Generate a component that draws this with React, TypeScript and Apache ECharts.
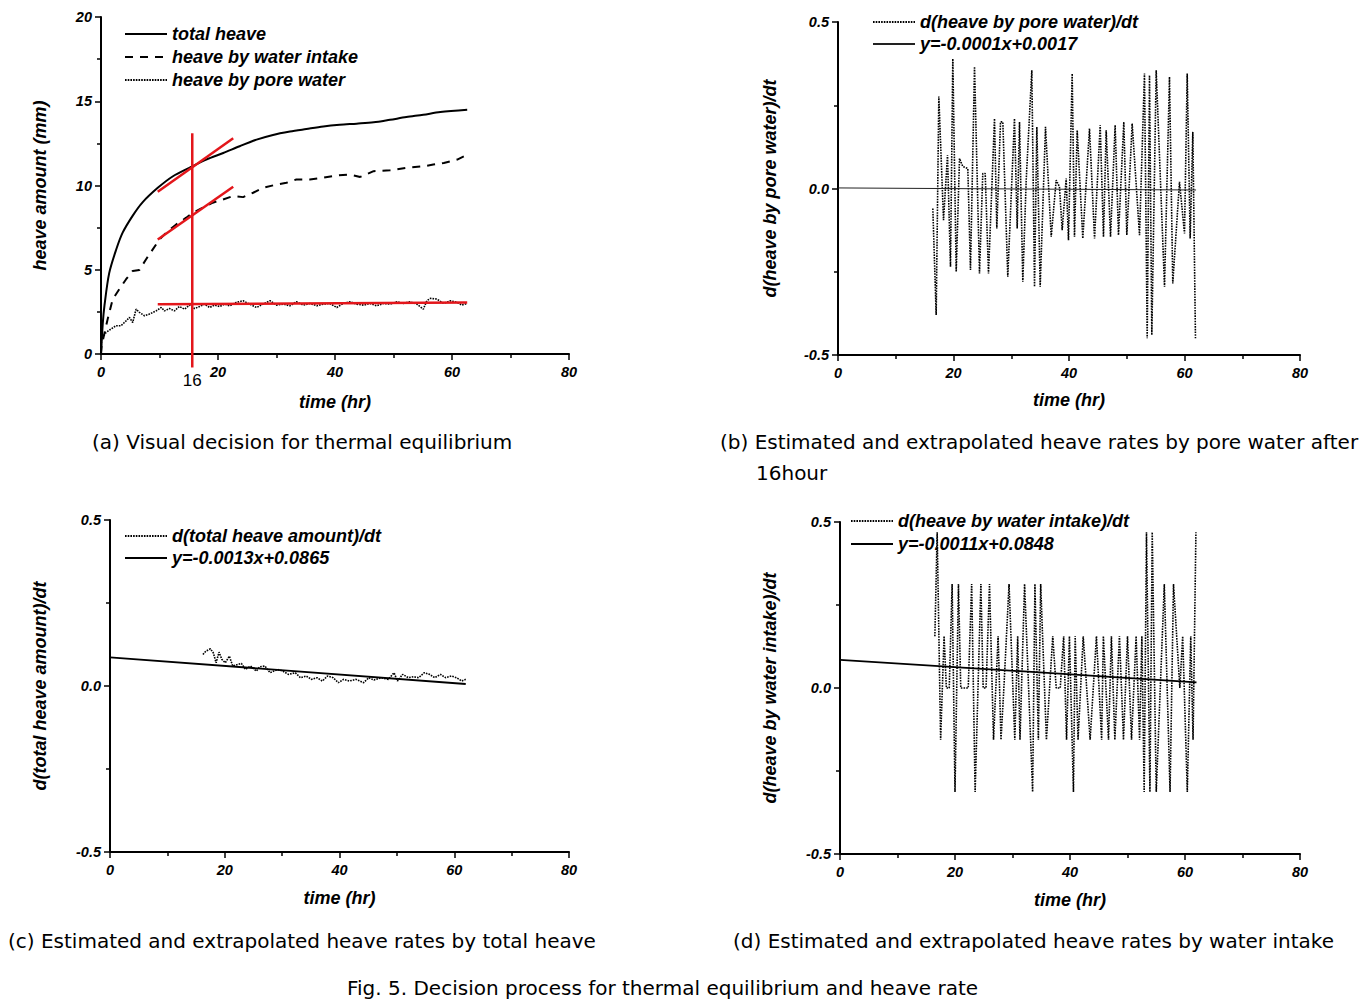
import React, { useEffect, useRef } from "react";
import * as echarts from "echarts";

const FONT = "'Liberation Sans', Arial, Helvetica, sans-serif";
const CAP_FONT = "'DejaVu Sans', 'Noto Sans', sans-serif";

// ---------- (a) heave amount ----------
const totalT = [0, 0.3, 0.6, 1.4, 2.6, 3.7, 5.4, 7.1, 9.7, 12.3, 15.1, 18.0, 20.9, 23.7, 26.6, 29.4, 32.3, 35.1, 38.0, 40.8, 43.7, 46.6, 49.4, 52.2, 55.1, 58.0, 62.6];
const totalHeave = [0, 1.8, 2.9, 4.8, 6.2, 7.2, 8.2, 9.0, 9.86, 10.55, 11.05, 11.54, 11.93, 12.33, 12.72, 13.0, 13.2, 13.35, 13.5, 13.6, 13.67, 13.75, 13.9, 14.06, 14.2, 14.36, 14.5];

const intakeT = [0, 0.1, 1.14, 2.0, 3.14, 4.29, 5.42, 6.57, 7.71, 8.85, 10.0, 11.14, 12.86, 14.57, 15.7, 17.4, 19.1, 20.85, 22.56, 24.3, 26.0, 27.7, 30.0, 31.7, 33.4, 35.7, 38.0, 40.3, 42.6, 44.3, 46.6, 49.4, 52.3, 55.1, 56.8, 58.6, 60.9, 62.6];
const intakeHeave = [0, 0.49, 2.07, 3.25, 3.85, 4.44, 4.93, 4.99, 5.62, 6.21, 6.8, 7.2, 7.69, 8.09, 8.38, 8.68, 8.98, 9.17, 9.37, 9.31, 9.57, 9.86, 10.06, 10.16, 10.36, 10.36, 10.46, 10.6, 10.65, 10.51, 10.85, 10.9, 11.05, 11.14, 11.24, 11.34, 11.54, 11.83];

const poreT = [0, 0.1, 0.86, 1.71, 2.57, 3.43, 4.29, 4.86, 5.42, 6.0, 6.57, 7.43, 8.28, 9.43, 10.3, 10.86, 11.7, 12.57, 13.4, 14.3, 15.14, 16.0, 16.86, 17.7, 18.57, 19.4, 20.3, 21.1, 22.0, 23.1, 24.3, 25.4, 26.6, 27.7, 28.9, 30.0, 31.2, 32.3, 33.4, 34.6, 35.7, 36.9, 38.0, 39.1, 40.3, 41.4, 42.6, 43.7, 44.9, 46.0, 47.1, 48.3, 49.4, 50.6, 51.7, 52.8, 54.0, 55.1, 55.7, 56.3, 57.4, 58.6, 59.7, 60.9, 61.7, 62.6];
const poreHeave = [0, 0.89, 1.28, 1.48, 1.68, 1.68, 1.97, 2.17, 1.87, 2.66, 2.47, 2.27, 2.37, 2.56, 2.76, 2.56, 2.7, 2.56, 2.82, 2.66, 2.9, 2.7, 2.82, 2.96, 2.76, 2.9, 2.82, 2.96, 2.86, 3.06, 3.16, 2.96, 2.76, 2.96, 3.16, 2.9, 2.96, 2.86, 3.1, 2.9, 3.0, 2.86, 2.96, 3.0, 2.76, 3.0, 3.1, 2.96, 2.9, 3.0, 2.86, 3.0, 2.96, 3.1, 3.0, 3.1, 2.96, 2.66, 3.16, 3.3, 3.26, 3.0, 3.16, 3.06, 2.9, 3.0];

// red decision lines in (a)
const equilibT = [15.6, 15.6];
const equilibY = [13.1, -0.8];
const equilibLabel = "16";
const tanTotalT = [9.7, 22.6];
const tanTotalY = [9.63, 12.8];
const tanIntakeT = [9.7, 22.6];
const tanIntakeY = [6.8, 9.93];
const tanPoreT = [9.7, 62.6];
const tanPoreY = [2.95, 3.05];

// ---------- (b) d(pore)/dt ----------
const poreRateT = [16.42, 17.0, 17.46, 18.27, 18.96, 19.48, 19.88, 20.47, 21.04, 21.61, 22.48, 22.94, 23.64, 24.5, 25.07, 25.49, 26.06, 27.1, 27.5, 28.14, 28.54, 29.4, 30.56, 31.03, 31.43, 32.0, 32.59, 33.56, 34.03, 34.43, 35.01, 35.93, 36.92, 37.78, 38.35, 38.82, 39.51, 39.91, 40.55, 40.95, 41.42, 42.39, 43.55, 44.42, 45.4, 45.97, 46.44, 47.19, 47.99, 48.57, 49.49, 50.01, 50.94, 52.21, 53.07, 53.54, 53.94, 54.34, 55.1, 56.54, 57.4, 57.97, 59.13, 60.0, 60.47, 60.98, 61.44, 61.9];
const poreRate = [-0.06, -0.38, 0.276, -0.095, 0.1, -0.235, 0.39, -0.25, 0.09, 0.066, 0.06, -0.245, 0.366, -0.255, 0.045, 0.045, -0.255, 0.21, -0.12, 0.2, 0.2, -0.265, 0.21, -0.12, 0.2, -0.28, 0.025, 0.355, -0.295, 0.185, -0.295, 0.185, -0.145, 0.025, 0.005, -0.125, 0.03, -0.155, 0.345, -0.145, 0.175, -0.15, 0.18, -0.15, 0.19, -0.145, 0.175, -0.145, 0.19, -0.14, 0.2, -0.14, 0.195, -0.14, 0.345, -0.45, 0.34, -0.44, 0.355, -0.295, 0.335, -0.285, 0.02, -0.135, 0.345, -0.15, 0.17, -0.45];
const poreFitT = [0, 62];
const poreFit = [0.0017, -0.0045];

// ---------- (c) d(total)/dt ----------
const totalRateT = [16.2, 16.7, 17.5, 18.0, 18.5, 19.0, 19.5, 20.1, 20.8, 21.4, 22.3, 22.9, 23.6, 24.5, 25.5, 26.1, 27.0, 27.9, 29.2, 30.1, 31.1, 32.3, 33.2, 34.2, 35.1, 36.1, 37.0, 37.9, 38.9, 39.8, 40.7, 41.7, 42.9, 44.2, 45.1, 46.0, 47.3, 48.5, 49.5, 50.1, 51.0, 52.0, 52.9, 53.8, 54.8, 55.7, 56.6, 57.6, 58.5, 59.5, 60.4, 61.3, 62.0];
const totalRate = [0.095, 0.105, 0.112, 0.1, 0.07, 0.102, 0.08, 0.07, 0.09, 0.06, 0.065, 0.068, 0.05, 0.06, 0.045, 0.058, 0.06, 0.04, 0.05, 0.045, 0.035, 0.04, 0.025, 0.03, 0.02, 0.025, 0.015, 0.03, 0.025, 0.01, 0.02, 0.015, 0.02, 0.01, 0.025, 0.018, 0.025, 0.02, 0.04, 0.015, 0.035, 0.025, 0.028, 0.025, 0.04, 0.035, 0.025, 0.035, 0.025, 0.03, 0.025, 0.015, 0.02];
const totalFitT = [0, 62];
const totalFit = [0.0865, 0.006];

// ---------- (d) d(intake)/dt ----------
const intakeRateT = [16.5, 16.9, 17.5, 18.1, 18.5, 19.0, 19.5, 20.0, 20.6, 21.0, 22.3, 22.9, 23.5, 24.5, 24.9, 25.4, 26.0, 26.7, 27.5, 28.0, 28.5, 29.4, 30.4, 30.9, 31.3, 32.1, 32.8, 33.5, 33.9, 34.5, 34.9, 35.9, 37.0, 37.6, 38.3, 38.9, 39.4, 39.9, 40.6, 40.9, 41.4, 42.3, 42.9, 43.5, 44.6, 45.5, 45.8, 46.7, 47.2, 47.8, 48.6, 49.3, 50.0, 50.7, 51.5, 52.1, 52.5, 52.9, 53.3, 53.9, 54.3, 55.0, 56.4, 57.4, 58.0, 59.1, 59.6, 60.4, 61.0, 61.4, 61.9];
const intakeRate = [0.156, 0.469, -0.156, 0.156, 0, 0, 0.313, -0.313, 0.313, 0, 0, 0.313, -0.313, 0.313, 0, 0, 0.313, -0.156, 0.156, -0.156, 0, 0.313, -0.156, 0.156, -0.156, 0.313, 0, -0.313, 0.313, -0.156, 0.313, -0.156, 0.156, 0, 0, 0.156, -0.156, 0.156, -0.313, 0.156, -0.156, 0.156, 0, -0.156, 0.156, -0.156, 0.156, -0.156, 0.156, -0.156, 0.156, -0.156, 0.156, -0.156, 0.156, -0.156, 0.156, -0.313, 0.469, -0.313, 0.469, -0.313, 0.313, -0.313, 0.313, 0, 0.156, -0.313, 0.156, -0.156, 0.469];
const intakeFitT = [0, 62];
const intakeFit = [0.0848, 0.017];

// ---------- text ----------
const captions = [
  "(a) Visual decision for thermal equilibrium",
  "(b) Estimated and extrapolated heave rates by pore water after",
  "16hour",
  "(c) Estimated and extrapolated heave rates by total heave",
  "(d) Estimated and extrapolated heave rates by water intake",
  "Fig. 5. Decision process for thermal equilibrium and heave rate",
];

const zip = (xs: number[], ys: number[]) => xs.map((x, i) => [x, ys[i]]);

const boldItalic = (size: number) => ({
  fontFamily: FONT,
  fontSize: size,
  fontWeight: "bold" as const,
  fontStyle: "italic" as const,
  color: "#000",
});

function xAxis(gridIndex: number, nameGap: number) {
  return {
    type: "value",
    gridIndex,
    min: 0,
    max: 80,
    interval: 20,
    name: "time (hr)",
    nameLocation: "middle",
    nameGap,
    nameTextStyle: boldItalic(18),
    axisLine: { show: true, onZero: false, lineStyle: { color: "#000", width: 2 } },
    axisTick: { show: true, inside: false, length: 6, lineStyle: { color: "#000", width: 1.5 } },
    minorTick: { show: true, splitNumber: 2, length: 4, lineStyle: { color: "#000", width: 1.5 } },
    axisLabel: { ...boldItalic(14.5), margin: 10 },
    splitLine: { show: false },
    minorSplitLine: { show: false },
  };
}

function yAxis(gridIndex: number, name: string, nameGap: number, rate: boolean) {
  return {
    type: "value",
    gridIndex,
    min: rate ? -0.5 : 0,
    max: rate ? 0.5 : 20,
    interval: rate ? 0.5 : 5,
    name,
    nameLocation: "middle",
    nameGap,
    nameTextStyle: boldItalic(18),
    axisLine: { show: true, onZero: false, lineStyle: { color: "#000", width: 2 } },
    axisTick: { show: true, inside: false, length: 6, lineStyle: { color: "#000", width: 1.5 } },
    minorTick: { show: true, splitNumber: 2, length: 4, lineStyle: { color: "#000", width: 1.5 } },
    axisLabel: {
      ...boldItalic(14.5),
      margin: 9,
      formatter: rate ? (v: number) => v.toFixed(1) : (v: number) => String(v),
    },
    splitLine: { show: false },
    minorSplitLine: { show: false },
  };
}

function line(name: string, idx: number, data: number[][], lineStyle: any, extra: any = {}) {
  return {
    type: "line",
    name,
    xAxisIndex: idx,
    yAxisIndex: idx,
    data,
    symbol: "none",
    showSymbol: false,
    lineStyle: { color: "#000", ...lineStyle },
    itemStyle: { color: lineStyle.color || "#000" },
    emphasis: { disabled: true },
    silent: true,
    ...extra,
  };
}

const RED = "#e3161b";
const DOT = { width: 1.6, type: [1.6, 1.1] };

function legend(data: string[], left: number, top: number, gap: number) {
  return {
    data,
    orient: "vertical",
    left,
    top,
    itemWidth: 42,
    itemHeight: 14,
    itemGap: gap,
    selectedMode: false,
    itemStyle: { opacity: 0, borderWidth: 0 },
    textStyle: boldItalic(18),
    padding: 0,
  };
}

export default function App() {
  const ref = useRef<HTMLDivElement>(null);
  useEffect(() => {
    document.body.style.margin = "0";
    document.body.style.overflow = "hidden";
    const chart = echarts.init(ref.current!, null, { renderer: "svg" });
    const option: any = {
      animation: false,
      backgroundColor: "#fff",
      grid: [
        { left: 101, top: 17, width: 468, height: 337 },
        { left: 838, top: 22, width: 462, height: 333 },
        { left: 110, top: 520, width: 459, height: 332 },
        { left: 840, top: 522, width: 460, height: 332 },
      ],
      xAxis: [xAxis(0, 39), xAxis(1, 36), xAxis(2, 37), xAxis(3, 37)],
      yAxis: [
        yAxis(0, "heave amount (mm)", 52, false),
        yAxis(1, "d(heave by pore water)/dt", 59, true),
        yAxis(2, "d(total heave amount)/dt", 61, true),
        yAxis(3, "d(heave by water intake)/dt", 61, true),
      ],
      legend: [
        legend(["total heave", "heave by water intake", "heave by pore water"], 124, 25, 5),
        legend(["d(heave by pore water)/dt", "y=-0.0001x+0.0017"], 872, 13, 4),
        legend(["d(total heave amount)/dt", "y=-0.0013x+0.0865"], 124, 527, 4),
        legend(["d(heave by water intake)/dt", "y=-0.0011x+0.0848"], 850, 512, 5),
      ],
      series: [
        line("total heave", 0, zip(totalT, totalHeave), { width: 2, type: "solid" }, { smooth: 0.3 }),
        line("heave by water intake", 0, zip(intakeT, intakeHeave), { width: 2, type: [8, 7] }),
        line("heave by pore water", 0, zip(poreT, poreHeave), DOT),
        line("equilibrium", 0, zip(equilibT, equilibY), { color: RED, width: 2.5 }, { clip: false }),
        line("tangent total", 0, zip(tanTotalT, tanTotalY), { color: RED, width: 2.5 }),
        line("tangent intake", 0, zip(tanIntakeT, tanIntakeY), { color: RED, width: 2.5 }),
        line("tangent pore", 0, zip(tanPoreT, tanPoreY), { color: RED, width: 2.5 }),

        line("d(heave by pore water)/dt", 1, zip(poreRateT, poreRate), DOT),
        line("y=-0.0001x+0.0017", 1, zip(poreFitT, poreFit), { width: 1, color: "#222" }),

        line("d(total heave amount)/dt", 2, zip(totalRateT, totalRate), DOT),
        line("y=-0.0013x+0.0865", 2, zip(totalFitT, totalFit), { width: 1.8 }),

        line("d(heave by water intake)/dt", 3, zip(intakeRateT, intakeRate), DOT),
        line("y=-0.0011x+0.0848", 3, zip(intakeFitT, intakeFit), { width: 1.8 }),
      ],
    };
    chart.setOption(option);

    const p = chart.convertToPixel({ xAxisIndex: 0, yAxisIndex: 0 }, [equilibT[1], equilibY[1]]) as number[];
    const capStyle = (text: string) => ({
      text,
      fill: "#000",
      font: `20px ${CAP_FONT}`,
      textAlign: "left",
      textVerticalAlign: "middle",
    });
    const capPos = [
      [92, 442],
      [720, 442],
      [756, 473],
      [8, 941],
      [733, 941],
      [347, 988],
    ];
    chart.setOption({
      graphic: [
        {
          type: "text",
          x: p[0],
          y: p[1] + 13,
          style: {
            text: equilibLabel,
            fill: "#000",
            font: `17px ${FONT}`,
            textAlign: "center",
            textVerticalAlign: "middle",
          },
        },
        ...captions.map((c, i) => ({
          type: "text",
          x: capPos[i][0],
          y: capPos[i][1],
          style: capStyle(c),
        })),
      ],
    });
    return () => chart.dispose();
  }, []);
  return <div ref={ref} style={{ width: 1367, height: 1005 }} />;
}
